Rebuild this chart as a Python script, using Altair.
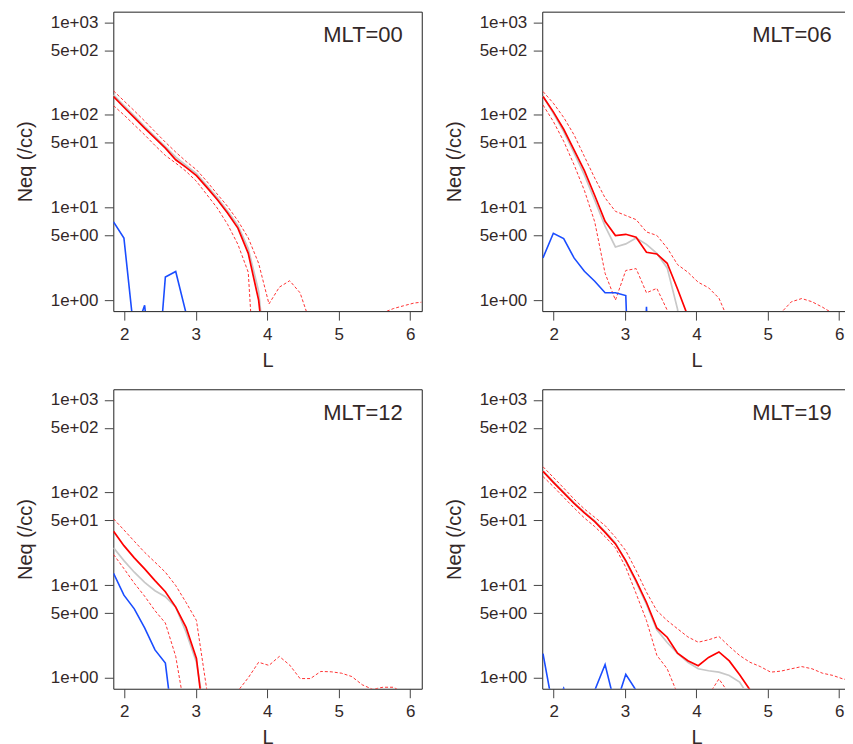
import altair as alt
import pandas as pd

# L grid (radial distance) shared by every series; the last point sits on the right edge
L = [1.85, 1.995, 2.14, 2.285, 2.43, 2.575, 2.72, 2.865, 3.01, 3.155, 3.3,
     3.445, 3.59, 3.735, 3.88, 4.025, 4.17, 4.315, 4.46, 4.605, 4.75, 4.895,
     5.04, 5.185, 5.33, 5.475, 5.62, 5.765, 5.91, 6.055, 6.16]

MLT_LABELS = ["00", "06", "12", "19"]

# ---- MLT=00 ----
MLT00_GRAY = [165, 126, 98, 75, 58.5, 45.5, 35, 28.5, 23.2, 17.3, 12.8, 9.2, 6.4, 3.6, 1.25,
              0.1, 0.05, 0.05, 0.05, 0.05, 0.05, 0.05, 0.05, 0.05, 0.05, 0.05, 0.05, 0.05, 0.05, 0.05, 0.05]
MLT00_RED = [158, 121, 93.7, 71.9, 56.1, 43.8, 32.8, 27.1, 22.1, 16.5, 12.2, 8.73, 6.0, 3.2, 1.0,
             0.1, 0.05, 0.05, 0.05, 0.05, 0.05, 0.05, 0.05, 0.05, 0.05, 0.05, 0.05, 0.05, 0.05, 0.05, 0.05]
MLT00_UPPER = [182, 142, 111, 86, 66, 50.8, 39.7, 31.5, 25.6, 19.2, 14, 10.3, 7.2, 4.7, 2.5,
               0.91, 1.38, 1.62, 1.2, 0.56, 0.4, 0.4, 0.4, 0.4, 0.4, 0.4, 0.73, 0.81, 0.87, 0.93, 0.95]
MLT00_LOWER = [126, 100, 78, 61, 46.8, 36.5, 30.2, 24.6, 19.2, 13.8, 9.9, 6.6, 4.0, 2.0, 0.03,
               0.03, 0.03, 0.03, 0.03, 0.03, 0.03, 0.03, 0.03, 0.03, 0.03, 0.03, 0.03, 0.03, 0.03, 0.03, 0.03]
MLT00_BLUE = [6.98, 4.69, 0.42, 0.88, 0.07, 1.78, 2.04, 0.72, 0.05, 0.05, 0.05, 0.05, 0.05, 0.05, 0.05,
              0.05, 0.05, 0.05, 0.05, 0.05, 0.05, 0.05, 0.05, 0.05, 0.05, 0.05, 0.05, 0.05, 0.05, 0.05, 0.05]

# ---- MLT=06 ----
MLT06_GRAY = [160, 104, 66, 39, 22.5, 12, 6.3, 3.75, 4.05, 4.69, 4.0, 3.2, 2.23, 0.8, 0.1,
              0.05, 0.05, 0.05, 0.05, 0.05, 0.05, 0.05, 0.05, 0.05, 0.05, 0.05, 0.05, 0.05, 0.05, 0.05, 0.05]
MLT06_RED = [158, 108, 70, 42, 25, 13.5, 7.1, 4.98, 5.14, 4.77, 3.29, 3.15, 2.5, 1.32, 0.67,
             0.05, 0.05, 0.05, 0.05, 0.05, 0.05, 0.05, 0.05, 0.05, 0.05, 0.05, 0.05, 0.05, 0.05, 0.05, 0.05]
MLT06_UPPER = [179, 134, 94, 61, 35.6, 20.8, 12.7, 9.1, 8.2, 7.4, 5.45, 5.0, 3.66, 2.42, 2.0,
               1.56, 1.36, 1.05, 0.58, 0.4, 0.4, 0.4, 0.4, 0.73, 0.96, 1.04, 0.96, 0.84, 0.72, 0.5, 0.4]
MLT06_LOWER = [128, 85, 52, 29, 15.3, 7.0, 1.95, 1.0, 2.09, 2.19, 1.2, 1.34, 0.78, 0.3, 0.05,
               0.05, 0.05, 0.05, 0.05, 0.05, 0.05, 0.05, 0.05, 0.05, 0.05, 0.05, 0.05, 0.05, 0.05, 0.05, 0.05]
MLT06_BLUE = [2.86, 5.27, 4.62, 2.86, 2.05, 1.6, 1.2, 1.2, 1.12, 0.001, 0.85, 0.001, 0.05, 0.05, 0.05,
              0.05, 0.05, 0.05, 0.05, 0.05, 0.05, 0.05, 0.05, 0.05, 0.05, 0.05, 0.05, 0.05, 0.05, 0.05, 0.05]

# ---- MLT=12 ----
MLT12_GRAY = [25.3, 18.4, 13.8, 10.7, 8.7, 7.5, 5.78, 3.1, 1.47, 0.3, 0.05, 0.05, 0.05, 0.05, 0.05,
              0.05, 0.05, 0.05, 0.05, 0.05, 0.05, 0.05, 0.05, 0.05, 0.05, 0.05, 0.05, 0.05, 0.05, 0.05, 0.05]
MLT12_RED = [38.2, 26.7, 19.7, 15, 11.2, 8.5, 5.8, 3.5, 1.62, 0.19, 0.05, 0.05, 0.05, 0.05, 0.05,
             0.05, 0.05, 0.05, 0.05, 0.05, 0.05, 0.05, 0.05, 0.05, 0.05, 0.05, 0.05, 0.05, 0.05, 0.05, 0.05]
MLT12_UPPER = [51.9, 39.5, 29.8, 22.6, 17.7, 13.8, 9.9, 6.5, 4.15, 0.74, 0.3, 0.3, 0.72, 1.0, 1.47,
               1.36, 1.7, 1.37, 0.98, 0.98, 1.17, 1.16, 1.12, 1.03, 0.84, 0.75, 0.79, 0.79, 0.69, 0.5, 0.5]
MLT12_LOWER = [21.4, 15.1, 10.5, 7.6, 5.3, 3.9, 1.7, 0.38, 0.05, 0.05, 0.05, 0.05, 0.05, 0.05, 0.05,
               0.05, 0.05, 0.05, 0.05, 0.05, 0.05, 0.05, 0.05, 0.05, 0.05, 0.05, 0.05, 0.05, 0.05, 0.05, 0.05]
MLT12_BLUE = [13.4, 7.8, 5.55, 3.45, 2.0, 1.44, 0.18, 0.05, 0.05, 0.05, 0.05, 0.05, 0.05, 0.05, 0.05,
              0.05, 0.05, 0.05, 0.05, 0.05, 0.05, 0.05, 0.05, 0.05, 0.05, 0.05, 0.05, 0.05, 0.05, 0.05, 0.05]

# ---- MLT=19 ----
MLT19_GRAY = [172, 131, 101, 78, 61.5, 49.5, 38, 28.5, 18.0, 10.8, 6.2, 3.3, 2.4, 1.83, 1.47,
              1.25, 1.19, 1.15, 1.06, 0.9, 0.6, 0.05, 0.05, 0.05, 0.05, 0.05, 0.05, 0.05, 0.05, 0.05, 0.05]
MLT19_RED = [169, 129, 99, 76.5, 60.3, 48.5, 37.2, 27.9, 18.4, 11.2, 6.5, 3.45, 2.74, 1.84, 1.53,
             1.35, 1.66, 1.9, 1.52, 1.08, 0.74, 0.05, 0.05, 0.05, 0.05, 0.05, 0.05, 0.05, 0.05, 0.05, 0.05]
MLT19_UPPER = [190, 146, 112, 85, 66.5, 54, 44, 32.9, 23.6, 14.4, 8.4, 5.3, 4.15, 3.38, 2.76,
               2.42, 2.57, 2.79, 2.18, 1.74, 1.47, 1.32, 1.15, 1.18, 1.25, 1.32, 1.25, 1.12, 1.06, 0.97, 0.94]
MLT19_LOWER = [149, 116, 88.8, 68.2, 53.2, 42.9, 33.4, 25.3, 15.6, 8.1, 4.15, 1.75, 1.25, 0.67, 0.3,
               0.3, 0.65, 0.97, 0.67, 0.05, 0.05, 0.05, 0.05, 0.05, 0.05, 0.05, 0.05, 0.05, 0.05, 0.05, 0.05]
MLT19_BLUE = [1.82, 0.45, 0.77, 0.4, 0.5, 0.73, 1.39, 0.49, 1.09, 0.73, 0.05, 0.05, 0.05, 0.05, 0.05,
              0.05, 0.05, 0.05, 0.05, 0.05, 0.05, 0.05, 0.05, 0.05, 0.05, 0.05, 0.05, 0.05, 0.05, 0.05, 0.05]

PANEL_DATA = {
    "00": [MLT00_GRAY, MLT00_UPPER, MLT00_LOWER, MLT00_RED, MLT00_BLUE],
    "06": [MLT06_GRAY, MLT06_UPPER, MLT06_LOWER, MLT06_RED, MLT06_BLUE],
    "12": [MLT12_GRAY, MLT12_UPPER, MLT12_LOWER, MLT12_RED, MLT12_BLUE],
    "19": [MLT19_GRAY, MLT19_UPPER, MLT19_LOWER, MLT19_RED, MLT19_BLUE],
}

X_TICKS = [2, 3, 4, 5, 6]
Y_TICKS = [1, 5, 10, 50, 100, 500, 1000]
Y_TICK_LABELS = ["1e+00", "5e+00", "1e+01", "5e+01", "1e+02", "5e+02", "1e+03"]

FONT = "Liberation Sans"
TEXT = "#332828"

STYLES = [
    dict(color="#c8c8c8", strokeWidth=1.7),
    dict(color="#ff3333", strokeWidth=1.0, strokeDash=[3, 2]),
    dict(color="#ff3333", strokeWidth=1.0, strokeDash=[3, 2]),
    dict(color="#ff0000", strokeWidth=1.7),
    dict(color="#1a4dff", strokeWidth=1.6),
]

label_expr = ""
for v, lab in zip(Y_TICKS, Y_TICK_LABELS):
    label_expr += f"datum.value == {v} ? '{lab}' : "
label_expr += "''"


def encodings(x_domain):
    x_enc = alt.X(
        "L:Q",
        scale=alt.Scale(domain=x_domain, nice=False, zero=False),
        axis=alt.Axis(values=X_TICKS, format="d", title="L", grid=False, domain=False,
                      tickSize=9, tickColor="#444444", labelPadding=6, labelFlush=False,
                      labelOverlap=False, titleY=55, titleBaseline="alphabetic"),
    )
    y_enc = alt.Y(
        "Neq:Q",
        scale=alt.Scale(type="log", domain=[0.761, 1304], nice=False),
        axis=alt.Axis(values=Y_TICKS, labelExpr=label_expr, title="Neq (/cc)", grid=False,
                      domain=False, tickSize=9, tickColor="#444444", labelPadding=6.5,
                      labelFlush=False, labelOverlap=False, titleX=-82,
                      titleBaseline="alphabetic"),
    )
    return x_enc, y_enc


def panel(mlt, x_domain):
    x_enc, y_enc = encodings(x_domain)
    layers = []
    for values, style in zip(PANEL_DATA[mlt], STYLES):
        df = pd.DataFrame({"L": L, "Neq": values})
        layers.append(alt.Chart(df).mark_line(clip=True, **style).encode(x=x_enc, y=y_enc))
    label = alt.Chart(pd.DataFrame({"t": [f"MLT={mlt}"]})).mark_text(
        align="right", baseline="middle", fontSize=22, font=FONT, color=TEXT
    ).encode(text="t:N", x=alt.value(290), y=alt.value(23.5))
    return alt.layer(*layers, label).properties(width=309, height=300)


LEFT_DOMAIN = [1.8466, 6.163]
RIGHT_DOMAIN = [1.8396, 6.161]

chart = alt.concat(
    panel(MLT_LABELS[0], LEFT_DOMAIN),
    panel(MLT_LABELS[1], RIGHT_DOMAIN),
    panel(MLT_LABELS[2], LEFT_DOMAIN),
    panel(MLT_LABELS[3], RIGHT_DOMAIN),
    columns=2,
    spacing=alt.RowColnumber(row=78.3, column=120.7),
    bounds="flush",
).properties(
    padding={"left": 6.5, "top": 2, "right": -7, "bottom": 0},
).configure(
    font=FONT,
).configure_view(
    stroke="#222222", strokeWidth=1
).configure_axis(
    labelFont=FONT, titleFont=FONT, labelColor=TEXT, titleColor=TEXT,
    labelFontSize=17, titleFontSize=20, titleFontWeight="normal", tickWidth=1,
)

chart.save("out.html", embed_options={"renderer": "svg", "actions": False})
